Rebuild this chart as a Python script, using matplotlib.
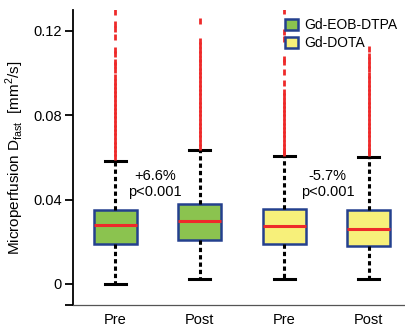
import numpy as np
import matplotlib.pyplot as plt
from matplotlib.patches import Patch

plt.rcParams['font.family'] = ['Liberation Sans', 'DejaVu Sans']
plt.rcParams['font.size'] = 10
plt.rcParams['mathtext.fontset'] = 'custom'
plt.rcParams['mathtext.rm'] = 'Liberation Sans'

labels = ['Pre', 'Post', 'Pre', 'Post']
q1 = [0.0191, 0.0207, 0.0191, 0.0180]
med = [0.0278, 0.0298, 0.0276, 0.0260]
q3 = [0.0350, 0.0379, 0.0357, 0.0349]
wlo = [0.0, 0.0024, 0.0022, 0.0022]
whi = [0.0585, 0.0634, 0.0606, 0.0602]

# outliers above the upper whisker, one list per box
out1 = [0.1289, 0.1234, 0.1207, 0.1171, 0.1108, 0.1093, 0.1052, 0.1037, 0.1013,
        0.098, 0.096, 0.094, 0.092, 0.090, 0.088, 0.086, 0.084, 0.082, 0.080,
        0.078, 0.076, 0.074, 0.072, 0.070, 0.068, 0.066, 0.064, 0.062, 0.060]
out2 = [0.1249, 0.1151, 0.1131, 0.1108, 0.1092, 0.1068, 0.1052,
        0.103, 0.101, 0.099, 0.097, 0.095, 0.093, 0.091, 0.089, 0.087, 0.085,
        0.083, 0.081, 0.079, 0.077, 0.075, 0.073, 0.071, 0.069, 0.067, 0.065]
out3 = [0.1297, 0.1194, 0.1163, 0.1068, 0.1052, 0.1005, 0.0953,
        0.091, 0.089, 0.087, 0.085, 0.083, 0.081, 0.079, 0.077, 0.075, 0.073,
        0.071, 0.069, 0.067, 0.065, 0.063, 0.062]
out4 = [0.1116, 0.1083, 0.106, 0.104, 0.102, 0.099, 0.097, 0.095, 0.093, 0.091,
        0.089, 0.087, 0.085, 0.083, 0.081, 0.079, 0.077, 0.075, 0.073, 0.071,
        0.069, 0.067, 0.065, 0.063, 0.062]
outliers = [out1, out2, out3, out4]

fills = ['#8bc34f', '#8bc34f', '#f7f07a', '#f7f07a']
edge = '#24408e'

stats = []
for i in range(4):
    stats.append(dict(med=med[i], q1=q1[i], q3=q3[i], whislo=wlo[i],
                      whishi=whi[i], fliers=outliers[i], label=labels[i]))

fig = plt.figure(figsize=(4.06, 3.29), dpi=100)
ax = fig.add_axes([0.18, 0.073, 0.82, 0.897])

bp = ax.bxp(stats, positions=[1, 2, 3, 4], widths=0.51, patch_artist=True,
            boxprops=dict(edgecolor=edge, linewidth=1.8),
            medianprops=dict(color='#ee2a2a', linewidth=2.2),
            whiskerprops=dict(color='k', linewidth=2.2, linestyle=(0, (1.4, 1.0))),
            capprops=dict(color='k', linewidth=2.2),
            capwidths=0.25,
            flierprops=dict(marker='|', markersize=4.4, markeredgewidth=2.0,
                            markeredgecolor='#ee2a2a'))
for box, c in zip(bp['boxes'], fills):
    box.set_facecolor(c)

ax.set_xlim(0.5, 4.44)
ax.set_ylim(-0.01, 0.13)
ax.set_yticks([-0.01, 0, 0.04, 0.08, 0.12])
ax.set_yticklabels(['', '0', '0.04', '0.08', '0.12'], fontsize=10.5)
ax.tick_params(axis='y', length=6, width=1.3, color='k', pad=2)
ax.tick_params(axis='x', length=0, pad=6, labelsize=10.5)
ax.spines['top'].set_visible(False)
ax.spines['right'].set_visible(False)
ax.spines['left'].set_linewidth(1.3)
ax.spines['bottom'].set_linewidth(0.9)
ax.spines['bottom'].set_color('#555555')

ax.set_ylabel('Microperfusion D$_{\\mathrm{fast}}$  [mm$^2$/s]', fontsize=11, labelpad=5)

ax.text(1.47, 0.0473, '+6.6%\np<0.001', ha='center', va='center',
        linespacing=1.15, fontsize=10.5)
ax.text(3.51, 0.0473, '-5.7%\np<0.001', ha='center', va='center',
        linespacing=1.15, fontsize=10.5)

handles = [Patch(facecolor='#8bc34f', edgecolor=edge, linewidth=1.8, label='Gd-EOB-DTPA'),
           Patch(facecolor='#f7f07a', edgecolor=edge, linewidth=1.8, label='Gd-DOTA')]
ax.legend(handles=handles, loc='upper right', bbox_to_anchor=(1.0, 1.0),
          frameon=False, handlelength=0.9, handleheight=0.9, handletextpad=0.5,
          labelspacing=0.3, borderaxespad=0.2, fontsize=10)

fig.savefig('out.png', dpi=100)
